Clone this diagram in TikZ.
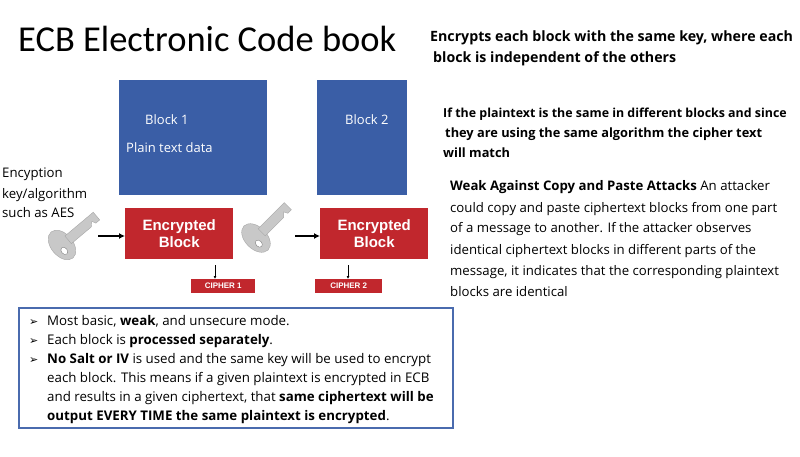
\documentclass[tikz,border=0pt]{standalone}
\usepackage{fontspec}
\setmainfont{Carlito}
\newfontfamily\osans{Open Sans}
\newfontfamily\arl{Liberation Sans}
\newfontfamily\djsans{DejaVu Sans}
\definecolor{bblue}{HTML}{3A5EA6}
\definecolor{bred}{HTML}{C1272D}
\definecolor{frameb}{HTML}{4A6BAE}
\definecolor{keyg}{HTML}{C8C8C8}
\usetikzlibrary{arrows.meta}
\tikzset{
  txt/.style={anchor=base west, inner sep=0pt},
  bluebox/.style={fill=bblue, draw=none, anchor=north west, inner sep=0pt},
  redbox/.style={fill=bred, draw=none, anchor=north west, inner sep=0pt, text=white, font=\arl\bfseries\fontsize{15}{17}\selectfont, align=center},
  cbox/.style={fill=bred, draw=none, anchor=north west, inner sep=0pt, text=white, font=\arl\bfseries\fontsize{8}{9}\selectfont},
  arr/.style={-{Latex[length=6pt,width=6pt]}, line width=1.8pt},
  sarr/.style={-{Latex[length=3pt,width=3pt]}, line width=1pt},
  rt/.style={txt, font=\osans\bfseries\fontsize{14.2}{20}\selectfont},
  rs/.style={txt, font=\osans\bfseries\fontsize{12.8}{20}\selectfont},
  pt/.style={txt, font=\osans\fontsize{13.2}{20}\selectfont},
  bt/.style={txt, font=\osans\fontsize{13.3}{19}\selectfont},
}
\newcommand{\keyshape}[3]{%
  \begin{scope}[shift={(#1,#2)}, rotate=#3]
    \fill[keyg, draw=gray!70] (0,0) ellipse (11 and 17);
    \fill[white, draw=gray] (-2,6) ellipse (3 and 4);
    \fill[keyg, draw=gray!70] (8,-5) -- (45,-5) -- (45,5) -- (40,5) -- (38,1) -- (34,5) -- (8,5) -- cycle;
  \end{scope}}
\begin{document}
\begin{tikzpicture}[x=1pt,y=-1pt]
\useasboundingbox (0,0) rectangle (800,457);
\fill[white] (0,0) rectangle (800,457);
\node[txt, font=\fontsize{36.5}{38}\selectfont] (title) at (18,52) {ECB Electronic Code book};
\node[rt] (r1) at (430,42) {Encrypts each block with the same key, where each};
\node[rt] (r2) at (433,63) {block is independent of the others};
\node[rs, font=\osans\bfseries\fontsize{12.4}{20}\selectfont] (r3) at (443,118) {If the plaintext is the same in different blocks and since};
\node[rs] (r4) at (445,138) {they are using the same algorithm the cipher text};
\node[rs] (r5) at (443,158) {will match};
\node[pt] (p1) at (450,191) {\textbf{Weak Against Copy and Paste Attacks} An attacker};
\node[pt] (p2) at (450,212) {could copy and paste ciphertext blocks from one part};
\node[pt] (p3) at (450,233) {of a message to another. If the attacker observes};
\node[pt] (p4) at (450,254) {identical ciphertext blocks in different parts of the};
\node[pt] (p5) at (450,275) {message, it indicates that the corresponding plaintext};
\node[pt] (p6) at (450,296) {blocks are identical};
\node[pt] (l1) at (2,178) {Encyption};
\node[pt] (l2) at (2,198) {key/algorithm};
\node[pt] (l3) at (2,218) {such as AES};
\node[bluebox, minimum width=148, minimum height=115] (b1) at (119,80) {};
\node[bluebox, minimum width=90, minimum height=115] (b2) at (317,80) {};
\node[txt, text=white, font=\osans\fontsize{13}{14}\selectfont] (b1t) at (145,125) {Block 1};
\node[txt, text=white, font=\osans\fontsize{13}{14}\selectfont] (b1u) at (126,153) {Plain text data};
\node[txt, text=white, font=\osans\fontsize{13}{14}\selectfont] (b2t) at (345,125) {Block 2};
\node[redbox, minimum width=108, minimum height=51] (e1) at (125,208) {Encrypted\\Block};
\node[redbox, minimum width=108, minimum height=51] (e2) at (320,208) {Encrypted\\Block};
\node[cbox, minimum width=64, minimum height=14] (c1) at (191,279) {CIPHER 1};
\node[cbox, minimum width=67, minimum height=14] (c2) at (315,279) {CIPHER 2};
\coordinate (k1) at (98,236);
\coordinate (k2) at (295,236);
\coordinate (d1) at (215,265);
\coordinate (d2) at (348,265);
\draw[arr] (k1) -- (e1.west |- k1);
\draw[arr] (k2) -- (e2.west |- k2);
\draw[sarr] (d1) -- (d1 |- c1.north);
\draw[sarr] (d2) -- (d2 |- c2.north);
\keyshape{62}{245}{40}
\keyshape{256}{238}{45}
\node[draw=frameb, line width=2pt, anchor=north west, minimum width=434, minimum height=120, inner sep=0pt] (bot) at (18,307) {};
\foreach \y in {325,344,363} { \node[txt, font=\djsans\fontsize{11}{12}\selectfont] at (29,\y) {➢}; }
\node[bt] (t1) at (47,325) {Most basic, \textbf{weak}, and unsecure mode.};
\node[bt] (t2) at (47,344) {Each block is \textbf{processed separately}.};
\node[bt] (t3) at (47,363) {\textbf{No Salt or IV} is used and the same key will be used to encrypt};
\node[bt] (t4) at (47,382) {each block. This means if a given plaintext is encrypted in ECB};
\node[bt] (t5) at (47,401) {and results in a given ciphertext, that \textbf{same ciphertext will be}};
\node[bt] (t6) at (47,420) {\textbf{output EVERY TIME the same plaintext is encrypted}.};
\end{tikzpicture}
\end{document}
